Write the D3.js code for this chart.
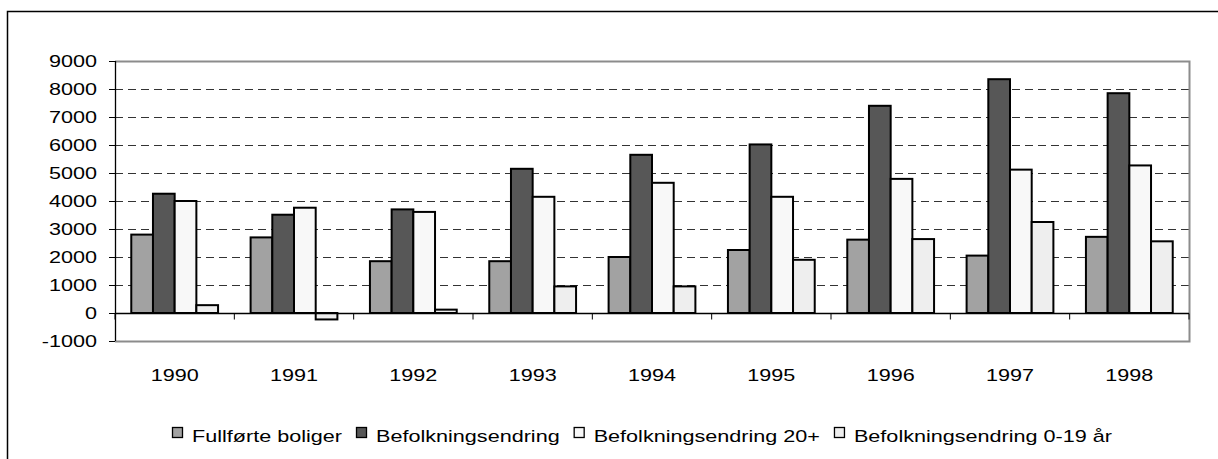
<!DOCTYPE html>
<html>
<head>
<meta charset="utf-8">
<script src="https://cdn.jsdelivr.net/npm/d3@7"></script>
<style>
  body { margin: 0; background: #fff; }
  text { font-family: "Liberation Sans", Arial, sans-serif; font-size: 16px; fill: #000; }
</style>
</head>
<body>
<script>
// data
var years = ['1990', '1991', '1992', '1993', '1994', '1995', '1996', '1997', '1998'];
var fullforte = [2800, 2700, 1850, 1850, 2000, 2250, 2620, 2050, 2720];
var befolkning = [4260, 3510, 3700, 5150, 5650, 6020, 7400, 8350, 7850];
var befolkning20 = [4000, 3760, 3610, 4150, 4650, 4150, 4790, 5120, 5270];
var befolkning019 = [280, -230, 120, 950, 950, 1900, 2640, 3250, 2560];
var seriesNames = ['Fullførte boliger', 'Befolkningsendring', 'Befolkningsendring 20+', 'Befolkningsendring 0-19 år'];
var seriesColors = ['#a2a2a2', '#575757', '#f8f8f8', '#eeeeee'];
var yTicks = [-1000, 0, 1000, 2000, 3000, 4000, 5000, 6000, 7000, 8000, 9000];

var seriesValues = [fullforte, befolkning, befolkning20, befolkning019];
var rows = years.map((y, i) => ({year: y, vals: seriesValues.map(s => s[i])}));

var width = 1218, height = 459;
var plotL = 115, plotR = 1189, plotT = 61, plotB = 341;
var sx = 1.35; // text in the picture is stretched sideways

var svg = d3.select('body').append('svg').attr('width', width).attr('height', height);

// outer frame
svg.append('rect').attr('x', 7.5).attr('y', 11.5).attr('width', 1220).attr('height', 460)
	.attr('fill', 'none').attr('stroke', '#000').attr('stroke-width', 1.5);

var x = d3.scaleBand().domain(years).range([plotL, plotR]);
var xs = d3.scaleBand().domain(d3.range(4)).range([0, x.bandwidth()]).paddingOuter(0.75);
var y = d3.scaleLinear().domain([-1000, 9000]).range([plotB, plotT]);

// stretched text helper
function stext(g, tx, ty, str, anchor) {
	return g.append('text').attr('transform', 'translate(' + tx + ',' + ty + ') scale(' + sx + ',1)')
		.attr('text-anchor', anchor).text(str);
}

// grid lines
svg.append('g').selectAll('line').data(yTicks.filter(v => v > 0 && v < 9000)).join('line')
	.attr('x1', plotL).attr('x2', plotR)
	.attr('y1', d => Math.round(y(d)) + 0.5).attr('y2', d => Math.round(y(d)) + 0.5)
	.attr('stroke', '#333').attr('stroke-dasharray', '8,5');

// plot area border (top, right, bottom)
svg.append('path')
	.attr('d', 'M' + plotL + ',' + (plotT + 0.5) + 'H' + (plotR + 0.5) + 'V' + (plotB + 0.5) + 'H' + plotL)
	.attr('fill', 'none').attr('stroke', '#8c8c8c').attr('stroke-width', 2);

// bars
var groups = svg.append('g').selectAll('g').data(rows).join('g')
	.attr('transform', d => 'translate(' + x(d.year) + ',0)');
groups.selectAll('rect').data(d => d.vals).join('rect')
	.attr('x', (d, i) => xs(i))
	.attr('width', xs.bandwidth())
	.attr('y', d => y(Math.max(0, d)))
	.attr('height', d => Math.abs(y(d) - y(0)))
	.attr('fill', (d, i) => seriesColors[i])
	.attr('stroke', '#000').attr('stroke-width', 2);

// x axis at zero with category ticks
var y0 = Math.round(y(0)) + 0.5;
svg.append('line').attr('x1', plotL).attr('x2', plotR).attr('y1', y0).attr('y2', y0)
	.attr('stroke', '#000').attr('stroke-width', 1.3);
svg.append('g').selectAll('line').data(d3.range(years.length + 1)).join('line')
	.attr('x1', i => plotL + i * x.step()).attr('x2', i => plotL + i * x.step())
	.attr('y1', y0).attr('y2', y0 + 6).attr('stroke', '#000');

// y axis
svg.append('line').attr('x1', plotL + 0.5).attr('x2', plotL + 0.5).attr('y1', plotT).attr('y2', plotB)
	.attr('stroke', '#000').attr('stroke-width', 1.3);
svg.append('g').selectAll('line').data(yTicks).join('line')
	.attr('x1', plotL - 6).attr('x2', plotL)
	.attr('y1', d => Math.round(y(d)) + 0.5).attr('y2', d => Math.round(y(d)) + 0.5)
	.attr('stroke', '#000');
var yLab = svg.append('g');
yTicks.forEach(v => stext(yLab, 97, y(v) + 6, String(v), 'end'));

// year labels
var xLab = svg.append('g');
years.forEach(yr => stext(xLab, x(yr) + x.bandwidth() / 2, 381, yr, 'middle'));

// legend
var leg = svg.append('g');
var lx = 172;
seriesNames.forEach((name, i) => {
	leg.append('rect').attr('x', lx + 0.5).attr('y', 427.5).attr('width', 10).attr('height', 10)
		.attr('fill', seriesColors[i]).attr('stroke', '#000').attr('stroke-width', 1.3);
	var t = stext(leg, lx + 20, 442, name, 'start');
	var w = t.node().getComputedTextLength() * sx;
	lx += 20 + w + 14;
});
</script>
</body>
</html>
